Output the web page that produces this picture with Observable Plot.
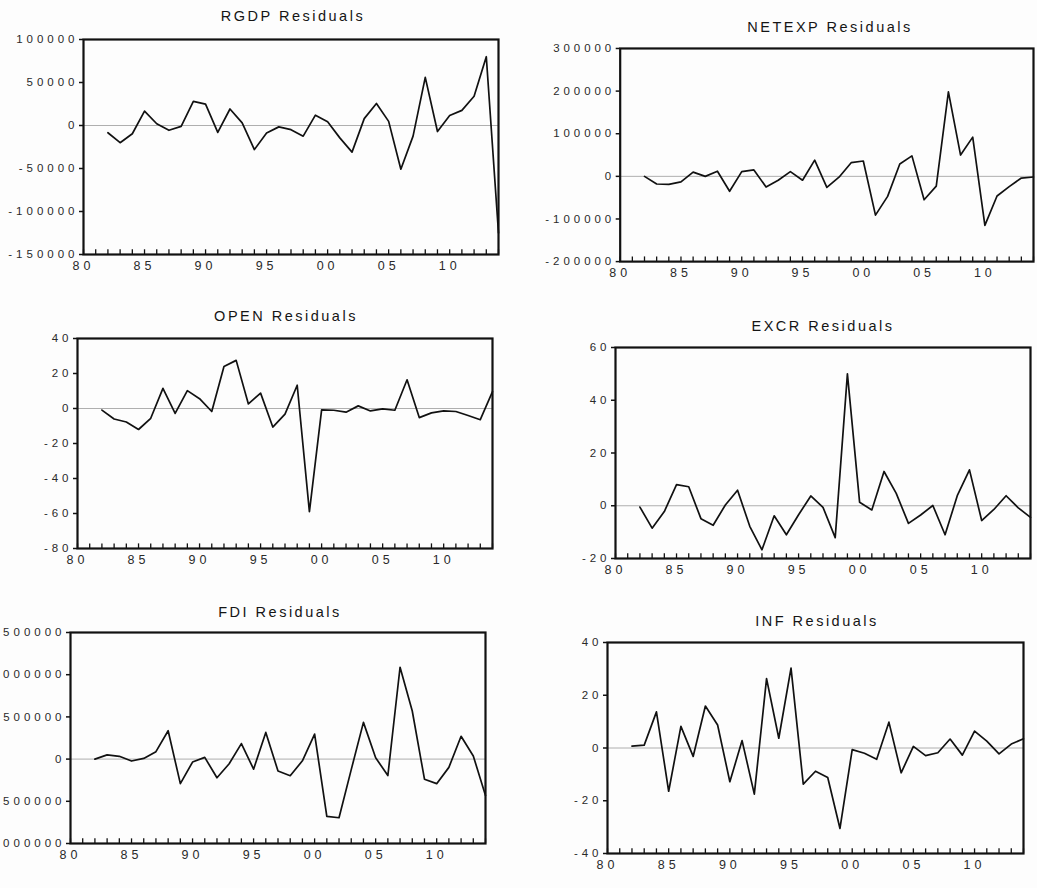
<!DOCTYPE html>
<html>
<head>
<meta charset="utf-8">
<script src="https://cdn.jsdelivr.net/npm/d3@7"></script>
<script src="https://cdn.jsdelivr.net/npm/@observablehq/plot@0.6"></script>
<style>
  html, body { margin: 0; padding: 0; background: #ffffff; }
  #root { position: relative; width: 1037px; height: 888px; overflow: hidden; background: #fdfdfd; }
  .title { position: absolute; transform: translate(-50%, -50%); font-family: "Liberation Sans", Arial, sans-serif; font-size: 14.5px; letter-spacing: 2.5px; color: #151515; white-space: nowrap; }
  .panel { position: absolute; }
  .panel svg text { letter-spacing: 4px; }
</style>
</head>
<body>
<div id="root"></div>
<script>
// Observation years
const years = d3.range(1982, 2015);
const tickYears = d3.range(1980, 2015);
const labelYears = [1980, 1985, 1990, 1995, 2000, 2005, 2010];

// Residual series
const rgdp = [-8400,-20000,-9600,16800,2000,-5600,-1000,28000,24800,-8000,
  19200,3000,-28000,-8800,-1600,-4800,-12400,12000,4400,-14400,
  -31000,8000,25600,4800,-50800,-12400,56000,-7000,11600,17600,
  34000,80000,-125000];
const netexp = [0,-18000,-19000,-13000,10000,0,12000,-35000,11000,15000,
  -25000,-9000,11000,-9000,38000,-26000,-2000,32000,36000,-91000,
  -47000,29000,48000,-55000,-23000,198000,50000,92000,-115000,-46000,
  -24000,-4000,-1500];
const open = [-0.9,-6,-7.7,-12,-5.6,11.5,-2.8,10.2,5.6,-1.7,
  24,27.5,2.6,8.8,-10.6,-3.2,13.3,-59,-0.8,-1,
  -2.1,1.5,-1.4,-0.2,-1,16.4,-5.2,-2.5,-1.4,-1.7,
  -4,-6.4,9.6];
const excr = [-0.5,-8.5,-2.2,8,7.2,-4.9,-7.4,0.3,5.9,-7.8,
  -16.7,-3.8,-11,-3.4,3.7,-0.6,-12.1,50,1.3,-1.6,
  13,4.7,-6.7,-3.5,0.1,-11,3.8,13.6,-5.6,-1.4,
  3.8,-0.8,-4.4];
const fdi = [0,50000,33000,-23000,8000,88000,336000,-291000,-35000,20000,
  -221000,-55000,184000,-119000,316000,-141000,-197000,-20000,297000,-678000,
  -695000,-125000,435000,16000,-195000,1088000,570000,-238000,-291000,-98000,
  270000,37000,-430000];
const inf = [0.7,1.1,13.7,-16.4,8.2,-3.2,15.9,8.7,-12.8,2.8,
  -17.5,26.3,3.7,30.3,-13.7,-8.8,-11.2,-30.5,-0.6,-2,
  -4.3,9.8,-9.4,0.6,-2.9,-1.8,3.4,-2.7,6.4,2.6,
  -2.2,1.5,3.5];

// Y tick values
const rgdpTicks = [-150000, -100000, -50000, 0, 50000, 100000];
const netexpTicks = [-200000, -100000, 0, 100000, 200000, 300000];
const openTicks = [-80, -60, -40, -20, 0, 20, 40];
const excrTicks = [-20, 0, 20, 40, 60];
const fdiTicks = [-1000000, -500000, 0, 500000, 1000000, 1500000];
const infTicks = [-40, -20, 0, 20, 40];

// Panel titles
const titles = ["RGDP Residuals", "NETEXP Residuals", "OPEN Residuals", "EXCR Residuals", "FDI Residuals", "INF Residuals"];

// Layout (frame position on page, title centre)
const layout = [
  {left: 83, top: 39, w: 415, h: 215, tx: 293, ty: 16},
  {left: 620, top: 48, w: 415, h: 214, tx: 830, ty: 27},
  {left: 77, top: 338, w: 415, h: 210, tx: 286, ty: 316},
  {left: 615, top: 347, w: 415, h: 211, tx: 823, ty: 326},
  {left: 70, top: 632, w: 415, h: 211, tx: 280, ty: 612},
  {left: 607, top: 642, w: 416, h: 211, tx: 817, ty: 621}
];

const series = [rgdp, netexp, open, excr, fdi, inf];
const ticks = [rgdpTicks, netexpTicks, openTicks, excrTicks, fdiTicks, infTicks];

const M = {l: 80, r: 4, t: 6, b: 26};
const root = document.getElementById("root");

series.forEach((vals, k) => {
  const L = layout[k];
  const tk = ticks[k];
  const dom = [tk[0], tk[tk.length - 1]];
  const data = vals.map((v, i) => ({year: years[i], value: v}));
  const tickLen = (dom[1] - dom[0]) * 0.022;

  const svg = Plot.plot({
    width: M.l + L.w + M.r,
    height: M.t + L.h + M.b,
    marginLeft: M.l, marginRight: M.r, marginTop: M.t, marginBottom: M.b,
    x: {domain: [1980, 2014]},
    y: {domain: dom},
    style: {fontFamily: "'Liberation Sans', Arial, sans-serif", fontSize: "11.5px", color: "#2a2a2a", background: "transparent", overflow: "visible"},
    marks: [
      Plot.ruleY([0], {stroke: "#9a9a9a", strokeWidth: 0.8}),
      Plot.ruleX(tickYears, {x: d => d, y1: dom[0], y2: dom[0] + tickLen, stroke: "#111", strokeWidth: 1.3}),
      Plot.lineY(data, {x: "year", y: "value", stroke: "#111", strokeWidth: 1.7}),
      Plot.frame({stroke: "#111", strokeWidth: 2.2}),
      Plot.axisY({ticks: tk, label: null, tickSize: 4, tickPadding: 1, tickFormat: d => String(d), stroke: "#111", strokeWidth: 1.5}),
      Plot.axisX({ticks: labelYears, label: null, tickSize: 0, tickPadding: 7, fontSize: 12.5, tickFormat: d => String(d % 100).padStart(2, "0")})
    ]
  });

  const wrap = document.createElement("div");
  wrap.className = "panel";
  wrap.style.left = (L.left - M.l) + "px";
  wrap.style.top = (L.top - M.t) + "px";
  wrap.appendChild(svg);
  root.appendChild(wrap);

  const t = document.createElement("div");
  t.className = "title";
  t.style.left = L.tx + "px";
  t.style.top = L.ty + "px";
  t.textContent = titles[k];
  root.appendChild(t);
});
</script>
</body>
</html>
